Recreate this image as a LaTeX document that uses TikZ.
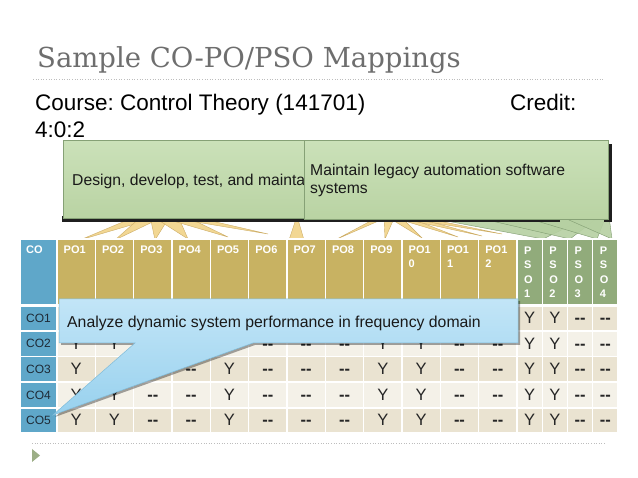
\documentclass[tikz,border=0pt]{standalone}
\usepackage{fontspec}
\setmainfont{Liberation Sans}
\newfontfamily\titlefont{DejaVu Serif}
\frenchspacing
\definecolor{titlegray}{HTML}{6E6E6E}
\definecolor{dotgray}{HTML}{BDBDBD}
\definecolor{coblue}{HTML}{5FA7C9}
\definecolor{pogold}{HTML}{C8B262}
\definecolor{psogreen}{HTML}{91AB7B}
\definecolor{bodyA}{HTML}{EAE3D1}
\definecolor{bodyB}{HTML}{F4F1E8}
\definecolor{cotextc}{HTML}{1E2A36}
\definecolor{gtop}{HTML}{CBE1B9}
\definecolor{gbot}{HTML}{B9D3A3}
\definecolor{gedge}{HTML}{86A176}
\definecolor{yfill}{HTML}{F2D58E}
\definecolor{yedge}{HTML}{CCAC66}
\definecolor{sfill}{HTML}{B6D0A2}
\definecolor{sedge}{HTML}{7F9B70}
\definecolor{btop}{HTML}{C2E5F7}
\definecolor{bbot}{HTML}{98D1EE}
\definecolor{bedge}{HTML}{7FBBD9}
\definecolor{bullet}{HTML}{9CAE86}
\newcommand{\dd}{{\bfseries -{}-}}
\newcommand{\nv}{}
\tikzset{
  dotline/.style={dotgray, line width=0.8pt, dash pattern=on 1pt off 1.6pt},
  ytri/.style={fill=yfill, draw=yedge, line width=0.4pt, fill opacity=0.95},
  gtri/.style={fill=sfill, draw=sedge, line width=0.4pt, fill opacity=0.9},
  shadowc/.style={fill=black!88},
  gbox/.style={top color=gtop, bottom color=gbot, draw=gedge, line width=0.5pt},
  cell/.style={draw=white, line width=1.4pt},
  htext/.style={inner sep=0pt, text=white, align=left, font=\bfseries\fontsize{11}{14.5}\selectfont},
  cotext/.style={inner sep=0pt, text=cotextc, font=\fontsize{12}{14}\selectfont},
  valtext/.style={inner sep=0pt, text=black!85, font=\fontsize{16.5}{18}\selectfont},
  boxtext/.style={inner sep=0pt, align=left, text=black!90, font=\fontsize{15.7}{18}\selectfont},
}
\begin{document}
\begin{tikzpicture}[x=1pt,y=-1pt]
\useasboundingbox (0,0) rectangle (638,478);
\fill[white] (0,0) rectangle (638,478);

% title
\node[anchor=base west, inner sep=0pt, text=titlegray, font=\titlefont\fontsize{27.5}{32}\selectfont] (title) at (37,68) {Sample CO-PO/PSO Mappings};
\coordinate (tl) at (33,79);
\coordinate (tr) at (605,79);
\draw[dotline] (tl) -- (tr);

% course line
\node[anchor=base west, inner sep=0pt, font=\fontsize{22.5}{27}\selectfont] (course) at (35,111) {Course: Control Theory (141701)};
\node[anchor=base west, inner sep=0pt, font=\fontsize{22.5}{27}\selectfont] (credit) at (510,111) {Credit:};
\node[anchor=base west, inner sep=0pt, font=\fontsize{22.5}{27}\selectfont] (credval) at (35,138) {4:0:2};

% yellow pointer fan 1
\fill[ytri] (137,216) -- (162,216) -- (80,240) -- cycle;
\fill[ytri] (142,216) -- (165,216) -- (115,240) -- cycle;
\fill[ytri] (150,216) -- (170,216) -- (155,240) -- cycle;
\fill[ytri] (152,216) -- (178,216) -- (188,239) -- cycle;
\fill[ytri] (156,216) -- (185,216) -- (228,237) -- cycle;
\fill[ytri] (160,216) -- (190,216) -- (268,234) -- cycle;
\fill[ytri] (297,216) -- (289,240) -- (304,240) -- cycle;
% yellow pointer fan 2
\fill[ytri] (380,216) -- (390,216) -- (337,239) -- cycle;
\fill[ytri] (384,216) -- (395,216) -- (385,239) -- cycle;
\fill[ytri] (386,216) -- (400,216) -- (422,238) -- cycle;
\fill[ytri] (388,216) -- (405,216) -- (458,237) -- cycle;
\fill[ytri] (390,216) -- (410,216) -- (482,236) -- cycle;
\fill[ytri] (392,216) -- (415,216) -- (502,234) -- cycle;
% green pointer slivers
\fill[gtri] (420,216) -- (590,216) -- (543,239) -- cycle;
\fill[gtri] (470,216) -- (600,216) -- (570,239) -- cycle;
\fill[gtri] (520,216) -- (606,216) -- (597,239) -- cycle;
\fill[gtri] (560,216) -- (609,216) -- (612,239) -- cycle;

% shadows of the green callouts
\fill[shadowc] (62,216) rectangle (560,222);
\fill[shadowc] (604,144) rectangle (612,222);

% green callouts
\node[gbox, anchor=north west, minimum width=241pt, minimum height=78pt, inner sep=0pt] (box1) at (63,140) {};
\node[boxtext, anchor=base west] (box1t) at (72,185.5) {Design, develop, test, and mainta};
\node[gbox, anchor=north west, minimum width=304pt, minimum height=79pt, inner sep=0pt] (box2) at (304,140) {};
\node[boxtext, anchor=north west] (box2t) at (310,163.5) {Maintain legacy automation software\\systems};

% table header
\draw[cell, fill=coblue] (20,239) rectangle (57,305);
\node[htext, anchor=north west] (hco) at (26,245.5) {CO};
\foreach \i/\t in {1/PO1,2/PO2,3/PO3,4/PO4,5/PO5,6/PO6,7/PO7,8/PO8,9/PO9,10/{PO1\\0},11/{PO1\\1},12/{PO1\\2}}{
  \pgfmathsetmacro\xa{57+38.333*(\i-1)}
  \pgfmathsetmacro\xb{57+38.333*\i}
  \draw[cell, fill=pogold] (\xa,239) rectangle (\xb,305);
  \node[htext, anchor=north west] (h\i) at (\xa+6.5,245.5) {\t};
}
\foreach \j in {1,2,3,4}{
  \pgfmathsetmacro\xa{517+25.25*(\j-1)}
  \pgfmathsetmacro\xb{517+25.25*\j}
  \draw[cell, fill=psogreen] (\xa,239) rectangle (\xb,305);
  \node[htext, anchor=north west] (hp\j) at (\xa+7,246.5) {P\\S\\O\\\j};
}

% table body (values hidden under the callout are left out)
\foreach \r/\ya/\yb/\bc/\vals in {
  1/306/331/bodyA/{\nv,\nv,\nv,\nv,\nv,\nv,\nv,\nv,\nv,\nv,\nv,\nv,Y,Y,\dd,\dd},
  2/331/356.5/bodyB/{Y,Y,\nv,\nv,\nv,\dd,\dd,\dd,Y,Y,\dd,\dd,Y,Y,\dd,\dd},
  3/356.5/382/bodyA/{Y,\nv,\nv,\dd,Y,\dd,\dd,\dd,Y,Y,\dd,\dd,Y,Y,\dd,\dd},
  4/382/408/bodyB/{Y,Y,\dd,\dd,Y,\dd,\dd,\dd,Y,Y,\dd,\dd,Y,Y,\dd,\dd},
  5/408/433/bodyA/{Y,Y,\dd,\dd,Y,\dd,\dd,\dd,Y,Y,\dd,\dd,Y,Y,\dd,\dd}}{
  \draw[cell, fill=coblue] (20,\ya) rectangle (57,\yb);
  \node[cotext, anchor=base west] (co\r) at (26,\yb-8.5) {CO\r};
  \foreach \v [count=\c] in \vals {
    \pgfmathsetmacro\xa{\c<=12 ? 57+38.333*(\c-1) : 517+25.25*(\c-13)}
    \pgfmathsetmacro\xb{\c<=12 ? 57+38.333*\c : 517+25.25*(\c-12)}
    \draw[cell, fill=\bc] (\xa,\ya) rectangle (\xb,\yb);
    \node[valtext, anchor=base] (v\r-\c) at ({(\xa+\xb)/2},\yb-7) {\v};
  }
}

% blue callout
\fill[black, opacity=0.35] (61,301) -- (520,301) -- (520,345) -- (255,345) -- (55,417) -- (137,345) -- (61,345) -- cycle;
\shade[top color=btop, bottom color=bbot, draw=bedge, line width=0.5pt] (59,299) -- (518,299) -- (518,343) -- (253,343) -- (53,415) -- (135,343) -- (59,343) -- cycle;
\node[boxtext, anchor=base west, font=\fontsize{15.8}{19}\selectfont] (ana) at (67,328) {Analyze dynamic system performance in frequency domain};

% footer
\coordinate (bl) at (32,443);
\coordinate (br) at (605,443);
\draw[dotline] (bl) -- (br);
\fill[bullet] (32,449) -- (40,455.5) -- (32,462) -- cycle;
\end{tikzpicture}
\end{document}
